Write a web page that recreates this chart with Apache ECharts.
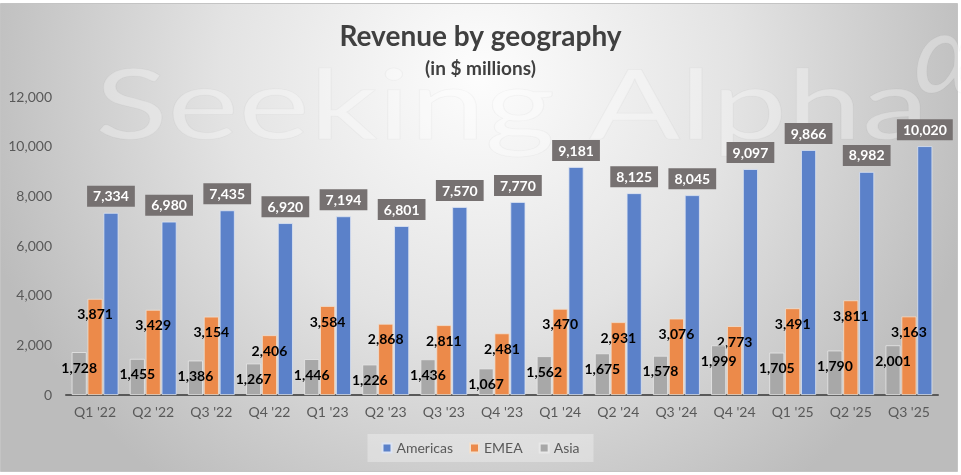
<!DOCTYPE html>
<html>
<head>
<meta charset="utf-8">
<script src="https://cdn.jsdelivr.net/npm/echarts@6/dist/echarts.min.js"></script>
<style>
  html, body { margin: 0; padding: 0; background: #fff; }
  #chart { width: 961px; height: 475px; }
</style>
</head>
<body>
<div id="chart"></div>
<script>
const quarters = ["Q1 '22", "Q2 '22", "Q3 '22", "Q4 '22", "Q1 '23", "Q2 '23", "Q3 '23", "Q4 '23",
    "Q1 '24", "Q2 '24", "Q3 '24", "Q4 '24", "Q1 '25", "Q2 '25", "Q3 '25"];
const americas = [7334, 6980, 7435, 6920, 7194, 6801, 7570, 7770, 9181, 8125, 8045, 9097, 9866, 8982, 10020];
const emea = [3871, 3429, 3154, 2406, 3584, 2868, 2811, 2481, 3470, 2931, 3076, 2773, 3491, 3811, 3163];
const asia = [1728, 1455, 1386, 1267, 1446, 1226, 1436, 1067, 1562, 1675, 1578, 1999, 1705, 1790, 2001];

const font = "Lato, 'Open Sans', sans-serif";
const fmt = (p) => p.value.toLocaleString("en-US");

// black labels for EMEA / Asia, sitting just inside the bar top
const innerLabel = {
    show: true,
    position: "insideTop",
    distance: 9,
    color: "#000",
    fontFamily: font,
    fontWeight: "bold",
    fontSize: 14,
    formatter: fmt,
};

const chart = echarts.init(document.getElementById("chart"));
chart.setOption({
    backgroundColor: "#fff",
    animation: false,
    graphic: [
        {
            type: "rect",
            z: -10,
            silent: true,
            shape: { x: 0.5, y: 3.5, width: 957, height: 468 },
            style: {
                fill: {
                    type: "radial", x: 0.5, y: 0.15, r: 1.1,
                    colorStops: [
                        { offset: 0, color: "#fdfdfd" },
                        { offset: 0.5, color: "#e3e3e3" },
                        { offset: 1, color: "#bcbcbc" },
                    ],
                },
                stroke: "#c4c4c4",
                lineWidth: 1,
            },
        },
        // faint watermark
        {
            type: "text",
            z: -9,
            silent: true,
            x: 95,
            y: 60,
            scaleX: 1.4,
            style: {
                text: "Seeking Alpha",
                fontFamily: "Lato, sans-serif",
                fontWeight: 400,
                fontSize: 96,
                verticalAlign: "top",
                fill: "rgba(255,255,255,0.3)",
                stroke: "rgba(0,0,0,0.03)",
                lineWidth: 1,
            },
        },
        {
            type: "text",
            z: -9,
            silent: true,
            x: 914,
            y: 2,
            style: {
                text: "\u03B1",
                fontFamily: "Lato, sans-serif",
                fontStyle: "italic",
                fontWeight: 400,
                fontSize: 110,
                verticalAlign: "top",
                fill: "rgba(255,255,255,0.3)",
                stroke: "rgba(0,0,0,0.03)",
                lineWidth: 1,
            },
        },
    ],
    title: {
        text: "Revenue by geography",
        subtext: "(in $ millions)",
        left: "center",
        top: 18,
        itemGap: 8,
        textStyle: { fontFamily: font, fontWeight: "bold", fontSize: 28, color: "#404040" },
        subtextStyle: { fontFamily: font, fontWeight: "bold", fontSize: 19, color: "#404040" },
    },
    legend: {
        data: ["Americas", "EMEA", "Asia"],
        bottom: 13,
        left: "center",
        icon: "rect",
        itemWidth: 9,
        itemHeight: 9,
        itemGap: 16,
        padding: [7, 14],
        backgroundColor: "rgba(255,255,255,0.3)",
        textStyle: { fontFamily: font, fontSize: 14, color: "#595959" },
    },
    grid: { left: 66, right: 23, top: 97, bottom: 80, containLabel: false },
    xAxis: {
        type: "category",
        data: quarters,
        axisLine: { lineStyle: { color: "#595959", width: 2 } },
        axisTick: { show: false },
        axisLabel: { fontFamily: font, fontSize: 14, color: "#595959", margin: 10 },
    },
    yAxis: {
        type: "value",
        min: 0,
        max: 12000,
        interval: 2000,
        splitLine: { show: false },
        axisLine: { show: false },
        axisTick: { show: false },
        axisLabel: {
            fontFamily: font, fontSize: 14, color: "#595959", margin: 14,
            formatter: (v) => v.toLocaleString("en-US"),
        },
    },
    series: [
        {
            name: "Asia",
            type: "bar",
            z: 5,
            data: asia,
            barWidth: 15,
            barGap: "6%",
            itemStyle: { color: "#a8a8a8", borderColor: "#e8e8e8", borderWidth: 0.8 },
            label: innerLabel,
        },
        {
            name: "EMEA",
            type: "bar",
            z: 4,
            data: emea,
            barWidth: 15,
            barGap: "6%",
            itemStyle: { color: "#ec8a4a", borderColor: "#f0e0d0", borderWidth: 0.8 },
            label: innerLabel,
        },
        {
            name: "Americas",
            type: "bar",
            z: 3,
            data: americas,
            barWidth: 15,
            barGap: "6%",
            itemStyle: { color: "#5b81c9", borderColor: "#dde4f2", borderWidth: 0.8 },
            label: {
                show: true,
                position: "top",
                distance: 6,
                color: "#fff",
                backgroundColor: "#767171",
                padding: [4, 6, 3, 6],
                fontFamily: font,
                fontWeight: "bold",
                fontSize: 14,
                formatter: fmt,
            },
        },
    ],
});
</script>
</body>
</html>
